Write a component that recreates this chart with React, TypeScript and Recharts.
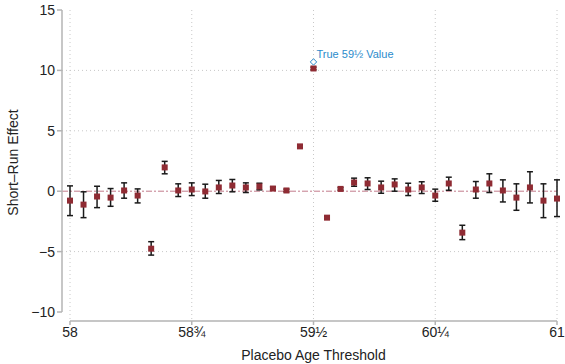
import { ScatterChart, Scatter, XAxis, YAxis, CartesianGrid, ReferenceLine, ErrorBar } from "recharts";

// months above age 58 for each placebo threshold
const months = [0, 1, 2, 3, 4, 5, 6, 7, 8, 9, 10, 11, 12, 13, 14, 15, 16, 17, 18,
  19, 20, 21, 22, 23, 24, 25, 26, 27, 28, 29, 30, 31, 32, 33, 34, 35, 36];
const effect = [-0.78, -1.11, -0.44, -0.53, 0.06, -0.36, -4.76, 1.97, 0.06, 0.14, -0.02, 0.31,
  0.47, 0.31, 0.39, 0.22, 0.06, 3.71, 10.16, -2.19, 0.19, 0.72, 0.64, 0.31, 0.56, 0.14, 0.31,
  -0.36, 0.64, -3.43, 0.14, 0.64, 0.06, -0.53, 0.31, -0.78, -0.61];
const ciLow = [-2.02, -2.19, -1.36, -1.25, -0.58, -0.97, -5.29, 1.44, -0.44, -0.36, -0.58, -0.19,
  -0.05, -0.11, 0.11, 0.08, -0.05, 3.6, 10.05, -2.3, 0.08, 0.41, 0.14, -0.17, 0, -0.36, -0.19,
  -0.83, 0.08, -4.01, -0.58, -0.11, -0.89, -1.58, -0.97, -2.19, -2.1];
const ciHigh = [0.44, -0.05, 0.41, 0.22, 0.69, 0.19, -4.18, 2.47, 0.61, 0.69, 0.58, 0.89,
  0.97, 0.69, 0.66, 0.36, 0.17, 3.82, 10.27, -2.08, 0.3, 1.08, 1.11, 0.83, 1.02, 0.66, 0.78,
  0.17, 1.16, -2.82, 0.8, 1.44, 0.94, 0.61, 1.61, 0.61, 0.94];

const xTicks = [58, 58.75, 59.5, 60.25, 61];
const xTickLabels = ["58", "58¾", "59½", "60¼", "61"];
const yTicks = [-10, -5, 0, 5, 10, 15];
const gridY = [-5, 5, 10];

const trueAge = [59.5];
const trueEffect = [10.7];
const trueLabel = ["True 59½ Value"];

const data = months.map((m, i) => ({
  age: 58 + m / 12,
  effect: effect[i],
  err: [effect[i] - ciLow[i], ciHigh[i] - effect[i]],
}));
const trueData = trueAge.map((a, i) => ({ age: a, truth: trueEffect[i], label: trueLabel[i] }));

const font = "'Liberation Sans', Arial, Helvetica, sans-serif";

const Square = (p: any) => (
  <rect x={p.cx - 3} y={p.cy - 3} width={6} height={6} fill="#8f2b33" />
);

const Diamond = (p: any) => (
  <g>
    <path
      d={`M${p.cx},${p.cy - 3.2}L${p.cx + 3.2},${p.cy}L${p.cx},${p.cy + 3.2}L${p.cx - 3.2},${p.cy}Z`}
      fill="#fff" stroke="#2b8bcc" strokeWidth={1}
    />
    <text x={p.cx + 3} y={p.cy - 4} fontSize={11} fill="#2b8bcc" fontFamily={font}>
      {p.payload.label}
    </text>
  </g>
);

const YTitle = (p: any) => {
  const vb = p.viewBox || { x: 0, y: 10, width: 62, height: 311 };
  const cx = 13;
  const cy = vb.y + vb.height / 2 - 3;
  return (
    <text x={cx} y={cy} transform={`rotate(-90 ${cx} ${cy})`} textAnchor="middle"
      dominantBaseline="central" fontSize={14} fill="#222" fontFamily={font}>
      Short–Run Effect
    </text>
  );
};

export default function App() {
  return (
    <div style={{ position: "absolute", left: 0, top: 0, background: "#fff" }}>
      <ScatterChart width={565} height={364} margin={{ top: 10, right: 8, left: 0, bottom: 0 }}>
        <CartesianGrid stroke="#c8c8c8" strokeDasharray="1 3" horizontalValues={gridY} verticalValues={xTicks} />
        <XAxis type="number" dataKey="age" domain={[58, 61]} ticks={xTicks} padding={{ left: 8, right: 0 }}
          height={43} tickSize={4} tickMargin={2}
          tickFormatter={(v: number) => xTickLabels[xTicks.indexOf(v)] ?? String(v)}
          tick={{ fontSize: 14, fill: "#222", fontFamily: font }}
          axisLine={{ stroke: "#b4b4b4", strokeWidth: 1.5, strokeDasharray: "0 8 487" }}
          tickLine={{ stroke: "#b4b4b4", strokeWidth: 1.5 }}
          label={{ value: "Placebo Age Threshold", position: "insideBottom", offset: 4, dx: 4, fontSize: 14, fill: "#222", fontFamily: font }} />
        <YAxis type="number" domain={[-10, 15]} ticks={yTicks} allowDataOverflow width={62}
          padding={{ top: 0, bottom: 9 }} tickSize={5} tickMargin={2}
          tick={{ fontSize: 14, fill: "#222", fontFamily: font }}
          axisLine={{ stroke: "#b4b4b4", strokeWidth: 1.5, strokeDasharray: "302 20" }}
          tickLine={{ stroke: "#b4b4b4", strokeWidth: 1.5 }}
          tickFormatter={(v: number) => (v < 0 ? "−" + Math.abs(v) : String(v))}
          label={<YTitle />} />
        <ReferenceLine y={0} stroke="#c27c8c" strokeWidth={1} strokeDasharray="6 2 2 2" />
        <Scatter data={data} dataKey="effect" shape={Square} isAnimationActive={false}>
          <ErrorBar dataKey="err" direction="y" width={3} stroke="#1a1a1a" strokeWidth={1.5} />
        </Scatter>
        <Scatter data={trueData} dataKey="truth" shape={Diamond} isAnimationActive={false} />
      </ScatterChart>
    </div>
  );
}
